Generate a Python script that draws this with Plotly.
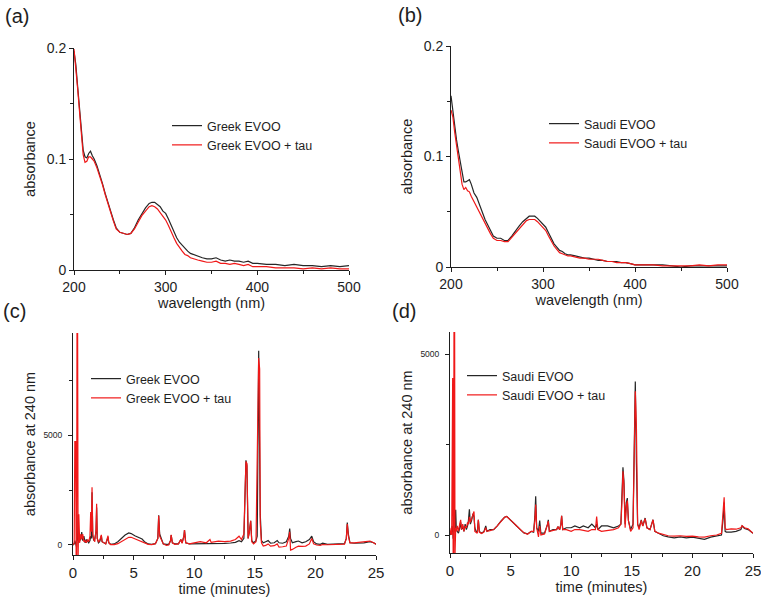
import plotly.graph_objects as go

# ---------------- data: UV spectra (panels a, b) ----------------
wavelength = [200, 202, 204, 206, 208, 210, 212, 214, 216, 218, 220, 222, 225, 228, 231, 234, 237, 240,
              243, 246, 250, 254, 258, 262, 266, 270, 274, 278, 282, 285, 288, 291, 294, 297, 300, 303,
              306, 309, 312, 315, 318, 321, 324, 327, 330, 335, 340, 345, 350, 355, 360, 365, 370, 375,
              380, 385, 390, 395, 400, 410, 420, 430, 440, 450, 460, 470, 480, 490, 500]

greek_evoo = [0.197, 0.185, 0.165, 0.145, 0.125, 0.108, 0.102, 0.101, 0.105, 0.107, 0.103, 0.100, 0.094,
              0.087, 0.078, 0.069, 0.060, 0.053, 0.045, 0.038, 0.034, 0.033, 0.032, 0.033, 0.038, 0.045,
              0.051, 0.056, 0.060, 0.061, 0.061, 0.059, 0.057, 0.053, 0.051, 0.046, 0.040, 0.034, 0.029,
              0.025, 0.022, 0.019, 0.017, 0.015, 0.014, 0.013, 0.011, 0.010, 0.010, 0.011, 0.009, 0.008,
              0.009, 0.008, 0.008, 0.007, 0.008, 0.006, 0.006, 0.005, 0.005, 0.004, 0.005, 0.004, 0.004,
              0.003, 0.004, 0.003, 0.004]

greek_evoo_tau = [0.199, 0.183, 0.163, 0.143, 0.122, 0.104, 0.097, 0.098, 0.102, 0.102, 0.100, 0.098, 0.092,
                  0.085, 0.077, 0.068, 0.059, 0.052, 0.044, 0.037, 0.034, 0.033, 0.032, 0.033, 0.037, 0.043,
                  0.049, 0.053, 0.057, 0.058, 0.057, 0.055, 0.052, 0.048, 0.045, 0.040, 0.034, 0.029, 0.024,
                  0.020, 0.017, 0.014, 0.013, 0.011, 0.010, 0.009, 0.008, 0.007, 0.007, 0.008, 0.006, 0.006,
                  0.005, 0.006, 0.005, 0.004, 0.005, 0.003, 0.003, 0.003, 0.002, 0.002, 0.002, 0.001, 0.002,
                  0.001, 0.002, 0.001, 0.001]

saudi_evoo = [0.155, 0.140, 0.125, 0.115, 0.105, 0.095, 0.083, 0.077, 0.077, 0.078, 0.079, 0.075, 0.067,
              0.063, 0.056, 0.049, 0.043, 0.038, 0.033, 0.028, 0.026, 0.026, 0.024, 0.024, 0.028, 0.033,
              0.037, 0.041, 0.044, 0.046, 0.046, 0.046, 0.044, 0.041, 0.038, 0.036, 0.031, 0.026, 0.021,
              0.018, 0.015, 0.014, 0.012, 0.011, 0.011, 0.010, 0.009, 0.008, 0.008, 0.007, 0.006, 0.006,
              0.005, 0.005, 0.005, 0.004, 0.004, 0.003, 0.002, 0.002, 0.002, 0.002, 0.001, 0.000, 0.001,
              0.001, 0.001, 0.001, 0.001]

saudi_evoo_tau = [0.142, 0.136, 0.122, 0.110, 0.100, 0.090, 0.075, 0.070, 0.072, 0.069, 0.068, 0.064, 0.059,
                  0.055, 0.049, 0.044, 0.039, 0.034, 0.030, 0.026, 0.024, 0.024, 0.023, 0.023, 0.027, 0.031,
                  0.035, 0.039, 0.042, 0.043, 0.043, 0.043, 0.041, 0.038, 0.035, 0.033, 0.028, 0.023, 0.019,
                  0.016, 0.013, 0.012, 0.011, 0.010, 0.010, 0.009, 0.008, 0.008, 0.007, 0.007, 0.007, 0.006,
                  0.005, 0.005, 0.004, 0.004, 0.004, 0.003, 0.002, 0.002, 0.002, 0.001, 0.001, 0.001, 0.001,
                  0.002, 0.001, 0.002, 0.002]

# ---------------- data: chromatograms (panel c, Greek) ----------------
time_c = [0.00, 0.10, 0.15, 0.22, 0.26, 0.30, 0.33, 0.38, 0.42, 0.48, 0.55, 0.65, 0.72, 0.80, 0.90, 1.00,
          1.10, 1.20, 1.30, 1.40, 1.46, 1.52, 1.57, 1.63, 1.72, 1.80, 1.90, 1.95, 2.00, 2.10, 2.20, 2.34,
          2.40, 2.55, 2.70, 2.89, 2.95, 3.10, 3.40, 3.70, 4.00, 4.30, 4.60, 4.80, 5.10, 5.40, 5.70, 5.90,
          6.20, 6.50, 6.80, 7.00, 7.07, 7.15, 7.30, 7.45, 7.70, 7.90, 8.05, 8.10, 8.20, 8.40, 8.70, 8.90,
          9.00, 9.15, 9.20, 9.30, 9.60, 10.00, 10.50, 11.00, 11.30, 11.40, 11.80, 12.00, 12.50, 13.00,
          13.40, 13.70, 13.90, 14.10, 14.20, 14.27, 14.35, 14.45, 14.55, 14.66, 14.75, 14.90, 15.10,
          15.20, 15.32, 15.40, 15.45, 15.55, 15.70, 15.90, 16.10, 16.30, 16.60, 16.85, 17.00, 17.30,
          17.60, 17.80, 17.88, 17.95, 18.10, 18.40, 18.60, 18.90, 19.20, 19.50, 19.70, 19.85, 20.10,
          20.40, 20.60, 21.00, 21.50, 22.00, 22.40, 22.55, 22.63, 22.72, 22.85, 23.20, 23.60, 24.00,
          24.50, 24.80, 25.00]

greek_chrom = [0, 50, 200, 100, 0, -100, 300, 200, 1380, 100, 200, 300, 590, 200, 400, 100,
               250, 150, 100, 200, 400, 300, 2400, 400, 200, 300, 600, 1700, 300, 100, 150, 420,
               150, 100, 50, 350, 100, 30, 50, 150, 300, 450, 545, 520, 420, 330, 270, 150,
               50, 30, 60, 300, 1350, 500, 250, 50, 30, 30, 200, 450, 100, 50, 50, 250,
               100, 400, 680, 100, 50, 50, 60, 50, 80, 50, 70, 60, 70, 90,
               120, 200, 150, 300, 2500, 3850, 3600, 300, 600, 1100, 200, 100, 200,
               400, 8830, 3000, 1380, 200, 100, 150, 200, 80, 100, 200, 100, 80,
               150, 400, 750, 300, 100, 150, 180, 100, 150, 250, 400, 150, 50,
               30, 80, 30, 30, 40, 60, 300, 1020, 500, 100, 80, 90, 100,
               150, 100, 30]

greek_chrom_tau = [0, 100, 4700, 4700, -600, -600, 9900, 9900, -600, 1400, 100, 500, 250, 500, 150, 200,
                   100, 250, 150, 400, 1500, 600, 2620, 500, 250, 150, 700, 1880, 300, 150, 200, 460,
                   150, 100, 50, 420, 100, 20, 20, 60, 150, 250, 350, 350, 280, 220, 170, 100,
                   30, 20, 60, 300, 1330, 400, 200, 50, -20, 0, 200, 460, 100, 30, 50, 250,
                   80, 400, 680, 100, 50, 100, 150, 100, 250, 120, 180, 180, 150, 180,
                   250, 400, 250, 500, 2500, 3800, 3700, 300, 600, 1100, 150, 50, 150,
                   4270, 8500, 8000, 1000, 100, -50, -20, 50, -50, -30, 50, -100, -80,
                   -50, 300, 600, -230, -200, -100, -50, -60, -50, 50, 300, 50, 0,
                   -20, 20, 10, 20, 30, 40, 300, 950, 400, 100, 100, 120, 130,
                   180, 100, 30]

# ---------------- data: chromatograms (panel d, Saudi) ----------------
time_d = [0.00, 0.10, 0.14, 0.17, 0.22, 0.26, 0.30, 0.33, 0.38, 0.41, 0.47, 0.52, 0.60, 0.70, 0.80, 0.88,
          0.95, 1.05, 1.15, 1.25, 1.35, 1.45, 1.52, 1.60, 1.68, 1.78, 1.90, 1.98, 2.05, 2.15, 2.25, 2.34,
          2.42, 2.60, 2.80, 2.95, 3.05, 3.30, 3.60, 3.90, 4.20, 4.50, 4.68, 4.90, 5.20, 5.50, 5.80, 6.10,
          6.40, 6.70, 6.90, 7.00, 7.07, 7.15, 7.30, 7.40, 7.50, 7.80, 8.05, 8.11, 8.20, 8.50, 8.80, 8.90,
          9.05, 9.15, 9.21, 9.30, 9.60, 10.00, 10.30, 10.70, 11.00, 11.40, 11.70, 12.00, 12.10, 12.20,
          12.50, 13.00, 13.50, 13.90, 14.10, 14.20, 14.27, 14.35, 14.45, 14.55, 14.63, 14.72, 14.90,
          15.10, 15.20, 15.29, 15.38, 15.48, 15.60, 15.78, 15.90, 16.10, 16.25, 16.50, 16.75, 16.90,
          17.20, 17.60, 18.00, 18.50, 19.00, 19.50, 20.00, 20.50, 21.00, 21.50, 22.00, 22.40, 22.55,
          22.62, 22.70, 22.80, 23.20, 23.60, 24.00, 24.10, 24.30, 24.60, 25.00]

saudi_chrom = [0, 100, 100, 250, 200, -100, 100, 200, 150, 100, 700, 150, 100, 50, 200, 350,
               150, 250, 100, 300, 150, 250, 400, 710, 300, 400, 590, 500, 200, 100, 80, 420,
               100, 50, 100, 250, 100, 150, 150, 250, 380, 490, 515, 450, 350, 250, 150, 60,
               30, 100, 80, 500, 1070, 200, 100, 400, 50, 50, 300, 420, 100, 150, 150, 230,
               150, 300, 530, 150, 200, 200, 250, 200, 250, 200, 300, 200, 300, 150,
               250, 250, 200, 250, 300, 1200, 1870, 1500, 300, 900, 1020, 400, 150,
               300, 2500, 4240, 2000, 300, 200, 420, 250, 470, 200, 150, 420, 100,
               50, -20, -50, -80, -50, -80, -60, -100, -120, -60, -20, 0, 500,
               900, 100, 80, 80, 100, 150, 250, 180, 150, 50]

saudi_chrom_tau = [0, 200, 0, 4340, 4340, -600, -600, 6200, 6200, -600, 200, 100, 250, 100, 300, 420,
                   150, 300, 100, 250, 200, 350, 300, 500, 350, 450, 550, 650, 100, 80, 50, 420,
                   80, 40, 80, 200, 100, 120, 150, 250, 380, 490, 510, 450, 350, 250, 140, 60,
                   20, 100, 100, 400, 840, 200, -50, 250, 0, 30, 300, 380, 100, 120, 150, 230,
                   150, 300, 530, 150, 150, 100, 150, 150, 120, 100, 150, 150, 510, 150,
                   100, 120, 150, 200, 300, 1000, 1760, 1400, 200, 800, 950, 400, 100,
                   200, 2300, 3970, 3000, 300, 150, 400, 250, 450, 200, 150, 420, 100,
                   50, 20, -20, -30, -20, -40, -30, -50, -60, -20, 0, 50, 700,
                   1040, 200, 150, 170, 160, 200, 260, 200, 170, 50]

# ---------------- figure ----------------
W, H = 761, 598
FONT = "Arial, Liberation Sans, sans-serif"
INK = "#1e1e1e"
BLACK = "#262626"
RED = "#f01818"


def xd(a, b):
    return [a / W, b / W]


def yd(top, bottom):
    return [1 - bottom / H, 1 - top / H]


fig = go.Figure()

panels = [
    (wavelength, greek_evoo, greek_evoo_tau, ("Greek EVOO", "Greek EVOO + tau"), "x", "y", "legend"),
    (wavelength, saudi_evoo, saudi_evoo_tau, ("Saudi EVOO", "Saudi EVOO + tau"), "x2", "y2", "legend2"),
    (time_c, greek_chrom, greek_chrom_tau, ("Greek EVOO", "Greek EVOO + tau"), "x3", "y3", "legend3"),
    (time_d, saudi_chrom, saudi_chrom_tau, ("Saudi EVOO", "Saudi EVOO + tau"), "x4", "y4", "legend4"),
]

for xs, yb, yr, names, xa, ya, lg in panels:
    fig.add_trace(go.Scatter(x=xs, y=yb, mode="lines", name=names[0], xaxis=xa, yaxis=ya, legend=lg,
                             line=dict(color=BLACK, width=1.2)))
    fig.add_trace(go.Scatter(x=xs, y=yr, mode="lines", name=names[1], xaxis=xa, yaxis=ya, legend=lg,
                             line=dict(color=RED, width=1.2)))

common = dict(showline=True, linecolor=INK, linewidth=1, showgrid=False, zeroline=False,
              ticks="outside", ticklen=4, tickcolor=INK, tickwidth=1, color=INK, automargin=False,
              ticklabeloverflow="allow")

title_font = dict(family=FONT, size=14.5, color=INK)

fig.update_layout(
    xaxis=dict(common, domain=xd(74, 349), anchor="y", range=[200, 500], tickvals=[200, 300, 400, 500],
               minor=dict(tickvals=[250, 350, 450], ticklen=3, tickcolor=INK, ticks="outside"),
               tickfont=dict(family=FONT, size=14, color=INK),
               title=dict(text="wavelength (nm)", font=title_font, standoff=2)),
    yaxis=dict(common, domain=yd(48, 270), anchor="x", range=[0, 0.2], tickvals=[0, 0.1, 0.2],
               ticktext=["0", "0.1", "0.2"],
               minor=dict(tickvals=[0.05, 0.15], ticklen=3, tickcolor=INK, ticks="outside"),
               tickfont=dict(family=FONT, size=14, color=INK),
               title=dict(text="absorbance", font=title_font, standoff=7)),
    xaxis2=dict(common, domain=xd(451, 727), anchor="y2", range=[200, 500], tickvals=[200, 300, 400, 500],
                minor=dict(tickvals=[250, 350, 450], ticklen=3, tickcolor=INK, ticks="outside"),
                tickfont=dict(family=FONT, size=14, color=INK),
                title=dict(text="wavelength (nm)", font=title_font, standoff=2)),
    yaxis2=dict(common, domain=yd(46, 267), anchor="x2", range=[0, 0.2], tickvals=[0, 0.1, 0.2],
                ticktext=["0", "0.1", "0.2"],
                minor=dict(tickvals=[0.05, 0.15], ticklen=3, tickcolor=INK, ticks="outside"),
                tickfont=dict(family=FONT, size=14, color=INK),
                title=dict(text="absorbance", font=title_font, standoff=7)),
    xaxis3=dict(common, domain=xd(73, 376), anchor="y3", range=[0, 25], tickvals=[0, 5, 10, 15, 20, 25],
                minor=dict(tickvals=[2.5, 7.5, 12.5, 17.5, 22.5], ticklen=3, tickcolor=INK, ticks="outside"),
                tickfont=dict(family=FONT, size=15, color=INK),
                title=dict(text="time (minutes)", font=title_font, standoff=3)),
    yaxis3=dict(common, domain=yd(333, 555), anchor="x3", range=[-455, 9640], tickvals=[0, 5000],
                minor=dict(tickvals=[2500, 7500], ticklen=3, tickcolor=INK, ticks="outside"),
                tickfont=dict(family=FONT, size=8.5, color=INK), ticklabelstandoff=4,
                title=dict(text="absorbance at 240 nm", font=title_font, standoff=4)),
    xaxis4=dict(common, domain=xd(450, 753), anchor="y4", range=[0, 25], tickvals=[0, 5, 10, 15, 20, 25],
                minor=dict(tickvals=[2.5, 7.5, 12.5, 17.5, 22.5], ticklen=3, tickcolor=INK, ticks="outside"),
                tickfont=dict(family=FONT, size=15, color=INK),
                title=dict(text="time (minutes)", font=title_font, standoff=3)),
    yaxis4=dict(common, domain=yd(332, 553), anchor="x4", range=[-497, 5608], tickvals=[0, 5000],
                minor=dict(tickvals=[2500], ticklen=3, tickcolor=INK, ticks="outside"),
                tickfont=dict(family=FONT, size=8.5, color=INK), ticklabelstandoff=4,
                title=dict(text="absorbance at 240 nm", font=title_font, standoff=4)),
)

legend_font = dict(family=FONT, size=12.5, color=INK)
leg_common = dict(xanchor="left", yanchor="top", bgcolor="rgba(0,0,0,0)", borderwidth=0,
                  font=legend_font, itemwidth=30, tracegroupgap=0)
fig.update_layout(
    legend=dict(leg_common, x=167 / W, y=1 - 111 / H),
    legend2=dict(leg_common, x=544 / W, y=1 - 109 / H),
    legend3=dict(leg_common, x=86 / W, y=1 - 364 / H),
    legend4=dict(leg_common, x=462 / W, y=1 - 361 / H),
)

labels = [("(a)", 17, 16), ("(b)", 410, 15), ("(c)", 14, 311), ("(d)", 404, 311)]
for txt, px, py in labels:
    fig.add_annotation(text=txt, x=px / W, y=1 - py / H, xref="paper", yref="paper",
                       xanchor="center", yanchor="middle", showarrow=False,
                       font=dict(family=FONT, size=20, color=INK))

fig.update_layout(width=W, height=H, margin=dict(l=0, r=0, t=0, b=0),
                  paper_bgcolor="white", plot_bgcolor="white", showlegend=True,
                  font=dict(family=FONT, color=INK))

fig.write_html("out.html", config={"displayModeBar": False},
               post_script="document.body.style.margin='0';document.body.style.overflow='hidden';")
